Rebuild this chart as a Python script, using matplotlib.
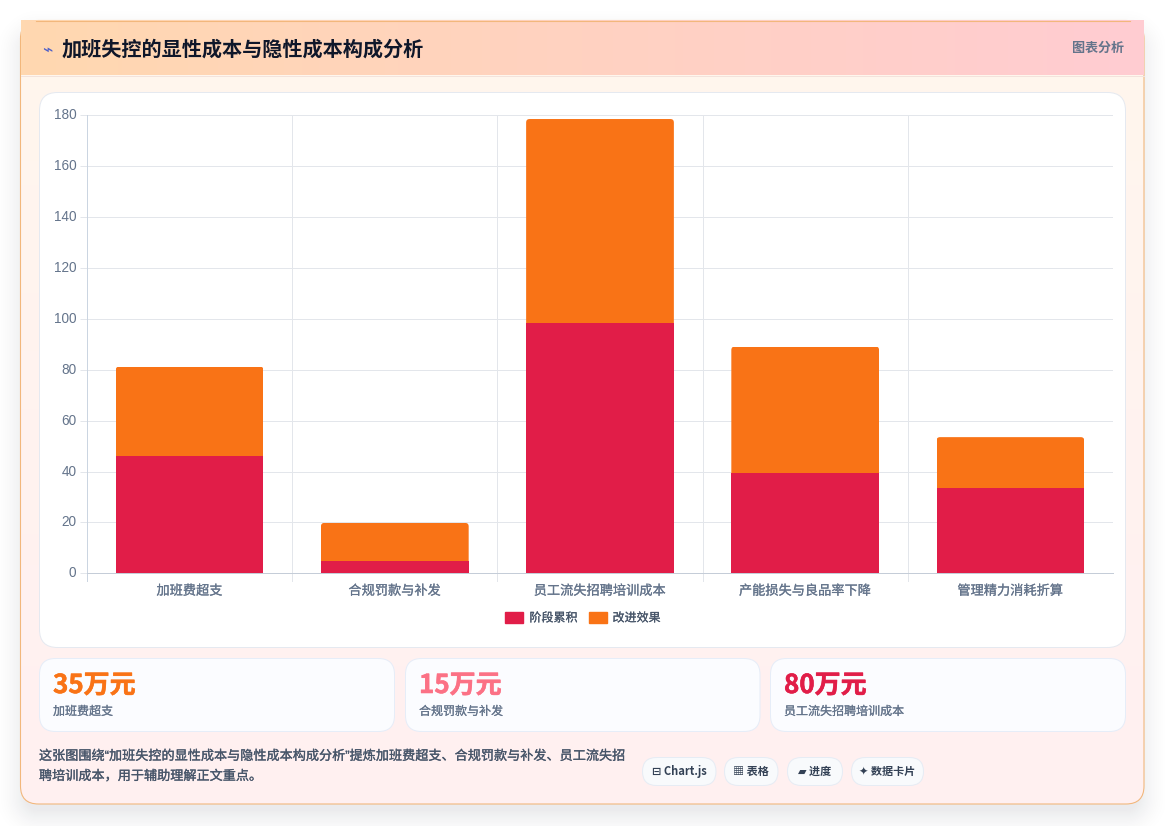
import numpy as np
import matplotlib
matplotlib.use("Agg")
import matplotlib.pyplot as plt
import matplotlib.patheffects as pe
from matplotlib.patches import FancyBboxPatch, Rectangle
from matplotlib.transforms import ScaledTranslation

CJK = ['Noto Sans CJK SC', 'DejaVu Sans']
NARROW_QUOTES = ['Liberation Sans', 'Noto Sans CJK SC']
plt.rcParams['font.family'] = CJK

# Chart data
categories = ['加班费超支', '合规罚款与补发', '员工流失招聘培训成本', '产能损失与良品率下降', '管理精力消耗折算']
accumulated = [46.2, 4.8, 98.5, 39.4, 33.5]
improvement = [35, 15, 80, 49.7, 20]
series_names = ['阶段累积', '改进效果']
y_ticks = list(range(0, 181, 20))

# Summary cards
card_values = ['35万元', '15万元', '80万元']
card_labels = ['加班费超支', '合规罚款与补发', '员工流失招聘培训成本']
card_colors = ['#F97316', '#FB7185', '#E11D48']

title = '加班失控的显性成本与隐性成本构成分析'
badge = '图表分析'
note_lines = ['这张图围绕“加班失控的显性成本与隐性成本构成分析”提炼加班费超支、合规罚款与补发、员工流失招',
              '聘培训成本，用于辅助理解正文重点。']
chips = ['⊟ Chart.js', '▦ 表格', '▰ 进度', '✦ 数据卡片']

W, H = 1165, 826
PX = 0.72  # one pixel in points at 100 dpi
RED, ORANGE = '#E11D48', '#F97316'

fig = plt.figure(figsize=(W / 100, H / 100), dpi=100, facecolor='white')
bg = fig.add_axes([0, 0, 1, 1])
bg.set_xlim(0, W)
bg.set_ylim(H, 0)
bg.axis('off')


def rbox(x0, y0, x1, y1, r, fc, ec='none', lw=PX, z=2):
    p = FancyBboxPatch((x0 + r, y0 + r), x1 - x0 - 2 * r, y1 - y0 - 2 * r,
                       boxstyle=f'round,pad={r},rounding_size={r}',
                       fc=fc, ec=ec, lw=lw, zorder=z)
    bg.add_patch(p)
    return p


def rounded_sdf(xx, yy, x0, y0, x1, y1, r):
    cx, cy = (x0 + x1) / 2, (y0 + y1) / 2
    qx = np.abs(xx - cx) - (x1 - x0) / 2 + r
    qy = np.abs(yy - cy) - (y1 - y0) / 2 + r
    return np.hypot(np.maximum(qx, 0), np.maximum(qy, 0)) + np.minimum(np.maximum(qx, qy), 0) - r


def semibold(color, width=0.15):
    return [pe.withStroke(linewidth=width, foreground=color)]


# Soft drop shadow under the panel
yy, xx = np.mgrid[0:H, 0:W] + 0.5
d = rounded_sdf(xx, yy - 12, 20, 21, 1144, 804, 18)
alpha = np.clip(1 - (d + 6) / 36, 0, 1) ** 2 * 0.085
shadow = np.zeros((H, W, 4))
shadow[..., :3] = (0.06, 0.09, 0.16)
shadow[..., 3] = alpha
bg.imshow(shadow, extent=(0, W, H, 0), zorder=0, aspect='auto', interpolation='bilinear')
bg.add_line(plt.Line2D([0, W], [825.5, 825.5], color='#E6E8EC', lw=PX, zorder=1))

# Panel body with a vertical tint
panel = rbox(20.5, 20.5, 1144, 804, 18, 'none', z=2)
grad = np.linspace(0, 1, 256)[:, None, None] ** 0.8
c0, c1 = np.array([255, 247, 237]) / 255, np.array([255, 240, 241]) / 255
body = c0 + (c1 - c0) * grad
im = bg.imshow(body, extent=(20.5, 1144, 804, 20.5), zorder=2, aspect='auto')
im.set_clip_path(panel)
rbox(20.5, 20.5, 1144, 804, 18, 'none', ec='#F2B77C', lw=1.1 * PX, z=3)

# Header band with a horizontal tint, square at its corners
hx = np.linspace(0, 1, 256)[None, :, None]
h0, h1 = np.array([255, 216, 176]) / 255, np.array([255, 204, 210]) / 255
head = h0 + (h1 - h0) * hx
bg.imshow(head, extent=(21, 1144, 75.5, 21), zorder=4, aspect='auto')
bg.add_line(plt.Line2D([21, 1144], [75.5, 75.5], color='#F3E3DC', lw=PX, zorder=5))
bg.add_line(plt.Line2D([36, 1130], [20.5, 20.5], color='#F2B77C', lw=1.1 * PX, zorder=5))
bg.set_xlim(0, W)
bg.set_ylim(H, 0)

bg.text(47.5, 50, '⌁', fontsize=12.5, color='#4F60C8', ha='center', va='center',
        family=['DejaVu Sans'], zorder=6)
bg.text(62, 49.5, title, fontsize=14.5, fontweight='bold', color='#0F172A', va='center', zorder=6)
bg.text(1124, 48, badge, fontsize=9.4, fontweight='bold', color='#64748B', ha='right', va='center', zorder=6)

# Chart card
rbox(39.5, 92.5, 1125.5, 647.5, 18, 'white', ec='#E5E9F0', z=5)

# Stacked bars drawn on a real axes
ax = fig.add_axes([87.0 / W, 1 - 573.3 / H, (1113 - 87.0) / W, (573.3 - 115.2) / H], zorder=3)
ax.patch.set_alpha(0)
x = np.arange(len(categories))
ax.set_xlim(-0.5, len(categories) - 0.5)
ax.set_ylim(0, 180)
ax.bar(x, accumulated, width=0.72, color=RED, zorder=3)
tops = ax.bar(x, improvement, bottom=accumulated, width=0.72, color=ORANGE, zorder=3)

# Round the upper corners of each stack by clipping its top segment
for rect in tops:
    px0, py0 = ax.transData.transform((rect.get_x(), rect.get_y()))
    px1, py1 = ax.transData.transform((rect.get_x() + rect.get_width(), rect.get_y() + rect.get_height()))
    r = 3.5
    clip = FancyBboxPatch((px0 + r, py0 - 10), px1 - px0 - 2 * r, py1 - py0 + 10 - r,
                          boxstyle=f'round,pad={r},rounding_size={r}',
                          transform=None, fc='none', ec='none')
    rect.set_clip_path(clip)

ax.set_yticks(y_ticks)
ax.set_xticks(x)
ax.set_xticklabels(categories, fontsize=9.5, color='#64748B')
for lab in ax.get_xticklabels():
    lab.set_path_effects(semibold('#64748B'))
ax.tick_params(axis='x', length=0, pad=8.2)
ax.tick_params(axis='y', length=5.4, width=PX, color='#E3E6EB', pad=2.2, labelsize=9.8, labelcolor='#64748B')
lift = ScaledTranslation(0, 1.5 / 100, fig.dpi_scale_trans)
for lab in ax.get_yticklabels():
    lab.set_family(['Liberation Sans'])
    lab.set_transform(lab.get_transform() + lift)
ax.yaxis.grid(True, color='#E3E6EB', lw=PX, zorder=0)
ax.set_axisbelow(True)
for vx in np.arange(-0.5, len(categories) - 1, 1):
    ax.plot([vx, vx], [-3.1, 180], color='#CBD5E1' if vx < 0 else '#E3E6EB', lw=PX, clip_on=False, zorder=1)
for s in ['top', 'right', 'left']:
    ax.spines[s].set_visible(False)
ax.spines['bottom'].set_color('#C5CDD8')
ax.spines['bottom'].set_linewidth(PX)

# Legend
handles = [Rectangle((0, 0), 1, 1, color=RED), Rectangle((0, 0), 1, 1, color=ORANGE)]
leg = fig.legend(handles, series_names, loc='center', bbox_to_anchor=(583 / W, 1 - 618 / H), ncol=2,
                 frameon=False, fontsize=8.65, labelcolor='#475569', handlelength=1.5, handleheight=0.95,
                 handletextpad=0.5, columnspacing=0.92, borderpad=0)
for t in leg.get_texts():
    t.set_path_effects(semibold('#475569'))

# Summary cards
card_x = [(39.5, 394.5), (405.5, 760), (770.5, 1125.5)]
for (x0, x1), val, lab, col in zip(card_x, card_values, card_labels, card_colors):
    rbox(x0, 658.5, x1, 731.5, 16, '#FBFCFF', ec='#E6EDF8', z=5)
    bg.text(x0 + 13.5, 685.5, val, fontsize=18.7, fontweight='bold', color=col, va='center', zorder=6,
            path_effects=semibold(col, 0.4))
    bg.text(x0 + 13.5, 711.5, lab, fontsize=8.65, color='#64748B', va='center', zorder=6,
            path_effects=semibold('#64748B'))

# Footnote
for y, line in zip((756.5, 776.5), note_lines):
    bg.text(39, y, line, fontsize=9.45, color='#475569', va='center', zorder=6,
            family=NARROW_QUOTES, path_effects=semibold('#475569', 0.2))

# Tag chips
chip_x = [(642.5, 716), (724.5, 778), (787.5, 842.5), (851.5, 923.5)]
for (x0, x1), chip in zip(chip_x, chips):
    rbox(x0, 757.5, x1, 785.5, 14, '#F8FAFC', ec='#E6ECF4', z=5)
    bg.text((x0 + x1) / 2, 771.5, chip, fontsize=8.0, fontweight='bold', color='#334155',
            ha='center', va='center', family=CJK, zorder=6)

fig.savefig('out.png', dpi=100, facecolor='white')
